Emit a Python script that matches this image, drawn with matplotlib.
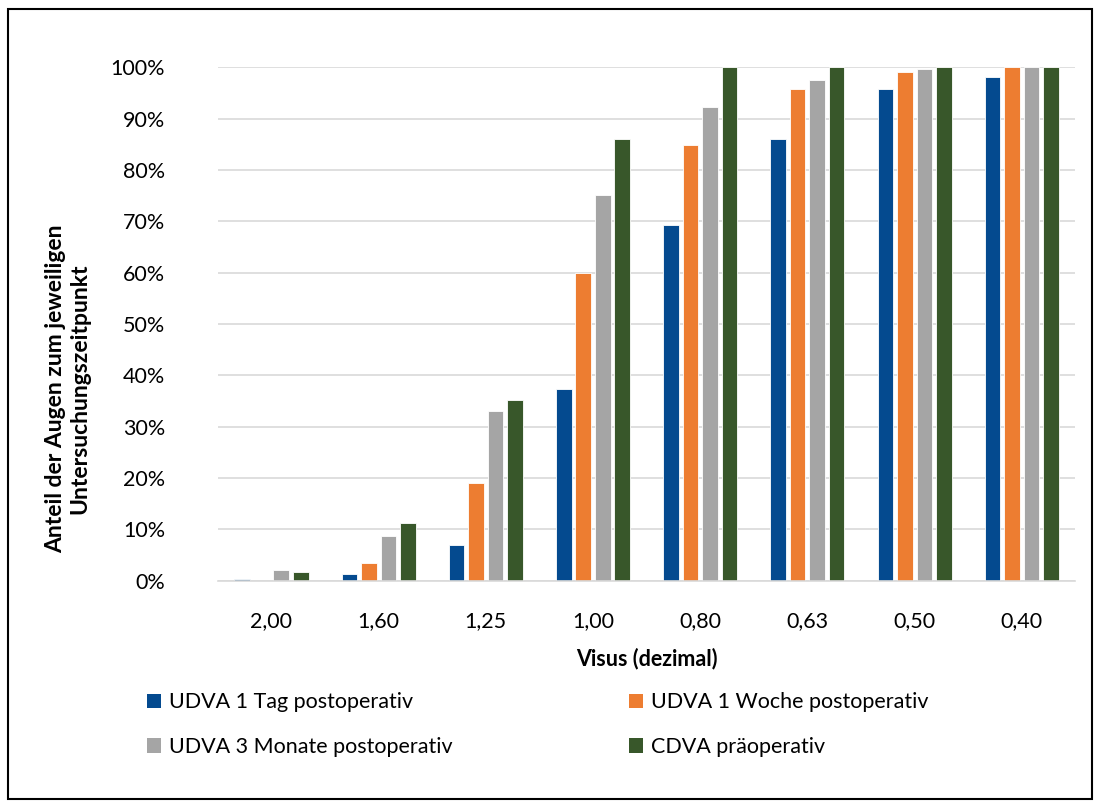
import matplotlib
matplotlib.use("Agg")
import matplotlib.pyplot as plt
import numpy as np
from matplotlib.patches import Patch, Rectangle

plt.rcParams["font.family"] = ["Lato", "DejaVu Sans"]

categories = ["2,00", "1,60", "1,25", "1,00", "0,80", "0,63", "0,50", "0,40"]
series = ["UDVA 1 Tag postoperativ", "UDVA 1 Woche postoperativ",
          "UDVA 3 Monate postoperativ", "CDVA präoperativ"]
udva_1tag = [0.4, 1.4, 7.0, 37.3, 69.2, 86.0, 95.7, 98.0]
udva_1woche = [0.0, 3.5, 19.1, 60.0, 84.8, 95.7, 99.0, 100.0]
udva_3monate = [2.2, 8.8, 33.0, 75.2, 92.3, 97.5, 99.7, 100.0]
cdva_praeop = [1.7, 11.2, 35.3, 86.1, 100.0, 100.0, 100.0, 100.0]
colors = ["#044A8F", "#ED7D31", "#A5A5A5", "#38572A"]

values = [udva_1tag, udva_1woche, udva_3monate, cdva_praeop]

fig = plt.figure(figsize=(10.95, 8.09), dpi=100)
ax = fig.add_axes([0.199, 0.282, 0.783, 0.635])

x = np.arange(len(categories))
width = 0.145
step = 0.182
for i, (vals, col) in enumerate(zip(values, colors)):
    ax.bar(x + (i - 1.5) * step, np.array(vals) / 100, width, color=col,
           edgecolor="white", linewidth=0.6, zorder=3)

ax.set_xlim(-0.5, len(categories) - 0.5)
ax.set_ylim(0, 1.0)
ax.set_yticks(np.arange(0, 1.01, 0.1))
ax.set_yticklabels([f"{int(round(v * 100))}%" for v in np.arange(0, 1.01, 0.1)], fontsize=15.5)
ax.set_xticks(x)
ax.set_xticklabels(categories, fontsize=15.5)
ax.tick_params(axis="both", length=0)
ax.tick_params(axis="y", pad=38)
ax.tick_params(axis="x", pad=22)
ax.grid(axis="y", color="#D9D9D9", linewidth=1.2, zorder=0)
for s in ["top", "right", "left"]:
    ax.spines[s].set_visible(False)
ax.spines["bottom"].set_color("#D9D9D9")
ax.spines["bottom"].set_linewidth(1.2)
ax.spines["bottom"].set_zorder(4)

ax.set_xlabel("Visus (dezimal)", fontsize=15.5, fontweight="bold", labelpad=12)
fig.text(0.062, 0.52, "Anteil der Augen zum jeweiligen\nUntersuchungszeitpunkt",
         rotation=90, ha="center", va="center", fontsize=16.5, fontweight="bold",
         linespacing=1.15)

# legend fills column-major, so reorder to get the row-major layout
order = [0, 2, 1, 3]
handles = [Patch(facecolor=colors[k], edgecolor="none") for k in order]
labels = [series[k] for k in order]
fig.legend(handles, labels, loc="upper left", bbox_to_anchor=(0.117, 0.168),
           ncol=2, frameon=False, fontsize=15.5, handlelength=0.65, handleheight=0.65,
           handletextpad=0.35, columnspacing=8.2, labelspacing=1.15)

fig.patches.append(Rectangle((0.007, 0.012), 0.99, 0.977, transform=fig.transFigure,
                             fill=False, edgecolor="black", linewidth=1.5))

fig.savefig("out.png", dpi=100)
